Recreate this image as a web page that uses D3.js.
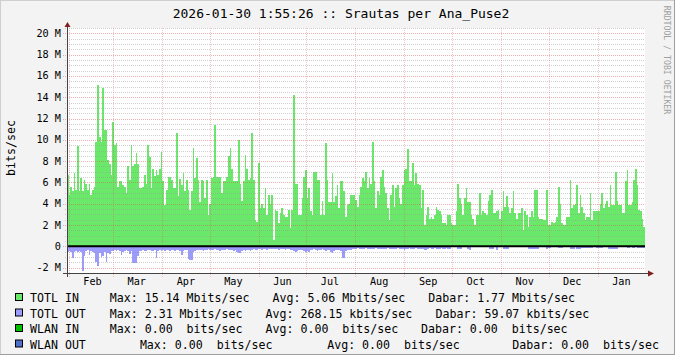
<!DOCTYPE html>
<html>
<head>
<meta charset="utf-8">
<script src="https://cdn.jsdelivr.net/npm/d3@7"></script>
<style>
  body { margin: 0; background: #f3f3f3; }
  svg { display: block; }
  text { font-family: "DejaVu Sans Mono", monospace; fill: #000; }
</style>
</head>
<body>
<svg id="chart" width="675" height="355"></svg>
<script>
// values in Mbit/s, one bar per pixel step of the rrd graph
const inFebMar = [6.7, 4.8, 5.6, 5.2, 6.9, 5.3, 9.4, 5.2, 6.4, 5.2, 6.2, 5.9, 5.3, 5.9, 4.8, 5.3, 5.6, 9.8, 15.14, 10.3,
  9.8, 14.9, 10.9, 10.9, 8.1, 7.7, 6.7, 11.7, 9.5, 9.7, 5.6, 6.1, 6.1, 5.8, 5.6, 5.0, 7.5, 6.2, 9.5, 7.5,
  7.7, 8.8, 7.7, 5.5, 5.5, 5.6, 6.7, 5.9, 9.5, 8.4, 5.5, 7.3, 6.6, 7.2, 6.7, 7.3, 8.9];
const inAprMay = [6.1, 3.9, 5.3, 6.5, 6.5, 6.2, 5.5, 5.5, 10.6, 4.7, 6.3, 5.8, 6.9, 5.2, 6.2, 5.3, 3.4, 5.2, 9.2, 6.4,
  8.3, 6.2, 4.2, 6.2, 6.1, 4.5, 6.2, 2.9, 4.0, 6.4, 6.5, 11.4, 6.5, 6.5, 6.5, 5.0, 6.1, 6.1, 6.5, 8.5,
  9.2, 7.3, 6.1, 6.1, 6.1, 10.0, 5.9, 4.3, 6.1, 8.6, 7.3, 6.2, 6.4, 10.6, 6.2, 2.5, 2.3];
const inJunJul = [7.8, 3.6, 4.0, 3.6, 5.5, 2.9, 4.8, 4.0, 4.8, 0.6, 3.4, 3.3, 2.2, 3.1, 3.6, 2.9, 2.8, 2.8, 3.4, 1.7,
  3.4, 14.2, 5.9, 5.9, 2.9, 2.9, 4.5, 6.5, 7.2, 4.5, 5.5, 3.3, 2.9, 7.0, 7.0, 6.2, 6.2, 2.9, 4.3, 2.9,
  9.7, 6.2, 4.2, 4.2, 6.9, 4.2, 4.7, 5.8, 3.6, 6.1, 6.1, 5.2, 2.8, 3.9, 4.0, 4.8, 4.8];
const inAugSep = [4.8, 4.4, 3.7, 4.8, 5.6, 6.4, 6.1, 7.0, 5.5, 6.4, 5.9, 9.8, 6.1, 3.6, 5.2, 4.8, 6.5, 7.2, 5.6, 5.0,
  3.6, 2.5, 4.8, 5.8, 3.7, 5.5, 5.8, 4.5, 4.0, 5.8, 7.2, 7.3, 9.1, 6.1, 6.1, 7.8, 5.8, 6.9, 5.9, 5.8,
  3.6, 5.3, 2.0, 2.9, 3.7, 2.6, 2.8, 2.6, 2.9, 3.7, 3.4, 3.3, 2.9, 2.2, 2.2, 2.0, 2.9, 2.9];
const inOctNov = [2.2, 2.0, 2.0, 3.3, 5.9, 4.5, 4.0, 2.9, 4.5, 5.5, 4.2, 4.2, 2.9, 2.6, 2.0, 2.9, 2.9, 5.0, 2.9, 3.3,
  3.1, 2.9, 4.3, 4.8, 5.3, 3.1, 3.1, 3.3, 3.4, 2.6, 3.3, 5.2, 3.7, 4.7, 3.7, 3.1, 3.6, 5.2, 3.1, 2.6,
  3.1, 3.1, 3.6, 1.5, 3.3, 2.9, 1.8, 2.8, 3.3, 2.8, 5.3, 5.3, 2.8, 2.6, 2.6, 2.5, 2.5, 5.3];
const inDecJan = [2.0, 2.0, 2.3, 2.2, 2.3, 2.8, 5.6, 4.0, 2.2, 2.0, 2.0, 2.8, 2.8, 6.2, 3.6, 3.9, 4.0, 5.8, 3.1, 4.8,
  3.7, 3.1, 2.5, 2.8, 2.8, 5.0, 2.5, 3.3, 3.3, 3.3, 3.3, 4.0, 5.0, 3.6, 4.0, 4.3, 3.7, 5.8, 3.9, 3.9,
  7.0, 4.3, 3.9, 3.9, 3.1, 3.1, 6.1, 7.2, 3.9, 3.9, 4.2, 6.2, 7.3, 5.8, 3.4, 3.3, 2.6, 1.8];

const outFebMar = [0.5, 0.4, 0.5, 1.1, 0.5, 0.4, 0.5, 0.4, 0.5, 2.3, 0.9, 0.4, 0.3, 0.8, 0.4, 0.5, 0.6, 1.5, 1.8, 0.6,
  1.0, 0.9, 0.5, 1.5, 0.6, 0.7, 0.4, 0.4, 0.3, 0.4, 0.3, 0.4, 0.8, 0.5, 0.4, 0.3, 0.4, 0.7, 0.4, 1.6,
  1.6, 1.6, 0.9, 0.4, 0.4, 0.3, 0.4, 0.4, 0.3, 0.3, 0.4, 0.4, 0.3, 1.1, 0.4, 0.3, 0.4];
const outAprMay = [0.3, 0.4, 0.3, 0.3, 0.4, 0.3, 0.3, 0.4, 0.3, 0.3, 0.4, 0.8, 0.4, 0.3, 0.3, 1.2, 1.3, 1.3, 0.5, 0.4,
  0.3, 0.3, 0.3, 0.3, 0.4, 0.3, 0.3, 0.2, 0.3, 0.3, 0.3, 0.2, 0.3, 0.3, 0.4, 0.3, 0.3, 0.3, 0.2, 0.3,
  0.3, 0.3, 0.4, 0.3, 0.5, 0.6, 0.6, 0.4, 0.3, 0.4, 0.3, 0.3, 0.4, 0.3, 0.2, 0.3, 0.3];
const outJunJul = [0.2, 0.2, 0.3, 0.2, 0.2, 0.3, 0.2, 0.2, 0.2, 0.2, 0.2, 0.2, 0.3, 0.2, 0.2, 0.2, 0.3, 0.2, 0.2, 0.3,
  0.3, 0.4, 0.5, 0.4, 0.3, 0.3, 0.3, 0.4, 0.5, 0.4, 0.5, 0.3, 0.3, 0.2, 0.3, 0.4, 0.3, 0.3, 0.2, 0.3,
  0.4, 0.3, 0.3, 0.5, 0.6, 0.4, 0.3, 0.3, 0.3, 0.4, 1.1, 1.1, 0.4, 0.3, 0.3, 0.3, 0.2];
const outAugSep = [0.2, 0.2, 0.15, 0.2, 0.25, 0.2, 0.2, 0.15, 0.2, 0.2, 0.25, 0.2, 0.2, 0.15, 0.2, 0.2, 0.2, 0.25, 0.2, 0.2,
  0.15, 0.2, 0.2, 0.25, 0.2, 0.2, 0.15, 0.2, 0.2, 0.25, 0.35, 0.2, 0.2, 0.15, 0.2, 0.2, 0.2, 0.15, 0.2, 0.2,
  0.2, 0.25, 0.3, 0.3, 0.2, 0.15, 0.2, 0.2, 0.15, 0.2, 0.2, 0.2, 0.15, 0.2, 0.2, 0.15, 0.2, 0.2];
const outOctNov = [0.05, 0.05, 0.05, 0.05, 0.2, 0.2, 0.2, 0.05, 0.05, 0.05, 0.25, 0.35, 0.05, 0.05, 0.05, 0.05, 0.05, 0.05, 0.05, 0.05,
  0.05, 0.05, 0.05, 0.2, 0.2, 0.2, 0.05, 0.35, 0.05, 0.05, 0.05, 0.2, 0.2, 0.2, 0.2, 0.05, 0.05, 0.05, 0.05, 0.05,
  0.05, 0.05, 0.05, 0.05, 0.05, 0.05, 0.2, 0.2, 0.2, 0.2, 0.25, 0.2, 0.2, 0.05, 0.05, 0.05, 0.05, 0.2];
const outDecJan = [0.15, 0.15, 0.05, 0.05, 0.05, 0.05, 0.15, 0.15, 0.15, 0.05, 0.05, 0.05, 0.05, 0.2, 0.2, 0.2, 0.05, 0.2, 0.2, 0.2,
  0.15, 0.15, 0.15, 0.15, 0.15, 0.15, 0.15, 0.05, 0.05, 0.15, 0.15, 0.15, 0.15, 0.05, 0.05, 0.05, 0.2, 0.2, 0.2, 0.2,
  0.2, 0.2, 0.05, 0.05, 0.05, 0.05, 0.05, 0.15, 0.15, 0.05, 0.15, 0.15, 0.05, 0.15, 0.15, 0.15, 0.15, 0.15];

const totlIn = [...inFebMar, ...inAprMay, ...inJunJul, ...inAugSep, ...inOctNov, ...inDecJan];
const totlOut = [...outFebMar, ...outAprMay, ...outJunJul, ...outAugSep, ...outOctNov, ...outDecJan];

const yTicks = [-2, 0, 2, 4, 6, 8, 10, 12, 14, 16, 18, 20];
const titleText = "2026-01-30 1:55:26 :: Srautas per Ana_Puse2";
const unitText = "bits/sec";
const watermarkText = "RRDTOOL / TOBI OETIKER";

const legendNames = ["TOTL IN", "TOTL OUT", "WLAN IN", "WLAN OUT"];
const legendMax = ["15.14 Mbits/sec", "2.31 Mbits/sec", "0.00  bits/sec", "0.00  bits/sec"];
const legendAvg = ["5.06 Mbits/sec", "268.15 kbits/sec", "0.00  bits/sec", "0.00  bits/sec"];
const legendNow = ["1.77 Mbits/sec", "59.07 kbits/sec", "0.00  bits/sec", "0.00  bits/sec"];
const legendColors = ["#6ae86a", "#9c9cff", "#00c000", "#5070c8"];

const svg = d3.select("#chart");
const W = 675, H = 355;
const plot = { left: 67, right: 645, top: 28, bottom: 273 };
const t0 = new Date(2025, 0, 30, 22, 0);
const t1 = d3.timeDay.offset(t0, 365);

const N = totlIn.length;
const x = d3.scaleLinear().domain([0, N]).range([plot.left, plot.right]);
const xt = d3.scaleTime().domain([t0, t1]).range([plot.left, plot.right]);
const y = d3.scaleLinear().domain([-2.5, 20.5]).range([plot.bottom, plot.top]);
const px = v => Math.round(v) + 0.5;

// background + frame
svg.append("rect").attr("width", W).attr("height", H).attr("fill", "#f3f3f3");
svg.append("path").attr("d", `M0,${H} V0 H${W}`).attr("fill", "none").attr("stroke", "#cfcfcf").attr("stroke-width", 2);
svg.append("path").attr("d", `M${W},0 V${H} H0`).attr("fill", "none").attr("stroke", "#9e9e9e").attr("stroke-width", 2);
svg.append("rect")
  .attr("x", plot.left).attr("y", plot.top)
  .attr("width", plot.right - plot.left).attr("height", plot.bottom - plot.top)
  .attr("fill", "#fff");

// data areas
const inArea = d3.area().curve(d3.curveStepAfter)
  .x((d, i) => x(i)).y0(y(0)).y1(d => y(d));
const outArea = d3.area().curve(d3.curveStepAfter)
  .x((d, i) => x(i)).y0(y(0)).y1(d => y(-d));

svg.append("path").datum([...totlIn, totlIn[N - 1]])
  .attr("d", inArea).attr("fill", legendColors[0]).attr("shape-rendering", "crispEdges");
svg.append("path").datum([...totlOut, totlOut[N - 1]])
  .attr("d", outArea).attr("fill", legendColors[1]).attr("shape-rendering", "crispEdges");

// grid (drawn over data like rrdtool)
const grid = svg.append("g").attr("fill", "none").attr("stroke-dasharray", "1,1");
d3.range(-2.5, 20.51, 0.5).filter(v => Math.abs(v % 2) > 0.01).forEach(v => {
  grid.append("line")
    .attr("x1", plot.left - 2).attr("x2", plot.right)
    .attr("y1", px(y(v))).attr("y2", px(y(v)))
    .attr("stroke", "rgba(150,150,150,0.45)");
});
yTicks.forEach(v => {
  grid.append("line")
    .attr("x1", plot.left - 4).attr("x2", plot.right)
    .attr("y1", px(y(v))).attr("y2", px(y(v)))
    .attr("stroke", "rgba(220,80,80,0.45)");
});
const months = d3.timeMonth.range(t0, t1);
months.forEach(m => {
  grid.append("line")
    .attr("x1", px(xt(m))).attr("x2", px(xt(m)))
    .attr("y1", plot.top).attr("y2", plot.bottom + 4)
    .attr("stroke", "rgba(220,80,80,0.32)");
});

// zero rule
svg.append("line")
  .attr("x1", plot.left).attr("x2", plot.right)
  .attr("y1", y(0)).attr("y2", y(0))
  .attr("stroke", "#000").attr("stroke-width", 2);

// axes with arrows
svg.append("line").attr("x1", plot.left - 4).attr("x2", plot.right + 4)
  .attr("y1", px(plot.bottom)).attr("y2", px(plot.bottom)).attr("stroke", "#444");
svg.append("line").attr("x1", px(plot.left)).attr("x2", px(plot.left))
  .attr("y1", plot.bottom + 4).attr("y2", plot.top - 2).attr("stroke", "#444");
svg.append("path")
  .attr("d", `M${px(plot.left) - 3},${plot.top - 1} L${px(plot.left)},${plot.top - 6} L${px(plot.left) + 3},${plot.top - 1} Z`)
  .attr("fill", "#801f1f");
svg.append("path")
  .attr("d", `M${plot.right + 3},${px(plot.bottom) - 3} L${plot.right + 9},${px(plot.bottom)} L${plot.right + 3},${px(plot.bottom) + 3} Z`)
  .attr("fill", "#801f1f");

// y labels
svg.append("g").selectAll("text").data(yTicks).join("text")
  .attr("x", 61).attr("y", d => y(d) + 3.5)
  .attr("text-anchor", "end").attr("font-size", "10.2px")
  .style("white-space", "pre")
  .text(d => d === 0 ? "0" : `${d} M`);

// month labels at mid month
svg.append("g").selectAll("text").data(months).join("text")
  .attr("x", d => xt(d3.timeDay.offset(d, 15)))
  .attr("y", 285)
  .attr("text-anchor", "middle").attr("font-size", "10.2px")
  .text(d3.timeFormat("%b"));

// title, unit, watermark
svg.append("text").attr("x", 341).attr("y", 18)
  .attr("text-anchor", "middle").attr("font-size", "13px")
  .text(titleText);
svg.append("text").attr("transform", "translate(15,148) rotate(-90)")
  .attr("text-anchor", "middle").attr("font-size", "11.6px")
  .text(unitText);
svg.append("text").attr("transform", "translate(664,60) rotate(90)")
  .attr("text-anchor", "middle").attr("font-size", "8.2px")
  .style("fill", "#a0a0a0")
  .text(watermarkText);

// legend
const rowY = [302, 317.5, 333, 348.5];
const maxX = [109.8, 109.8, 109.8, 139.9];
const avgX = [272.5, 265.6, 265.6, 327.2];
const nowX = [428.3, 435.6, 421, 512.3];
const legend = svg.append("g").attr("font-size", "11.6px");
legendNames.forEach((name, i) => {
  legend.append("rect")
    .attr("x", 15.5).attr("y", rowY[i] - 8.5).attr("width", 7).attr("height", 7)
    .attr("fill", legendColors[i]).attr("stroke", "#000");
  legend.append("text").attr("x", 30).attr("y", rowY[i]).text(name);
  legend.append("text").attr("x", maxX[i]).attr("y", rowY[i])
    .style("white-space", "pre").text(`Max: ${legendMax[i]}`);
  legend.append("text").attr("x", avgX[i]).attr("y", rowY[i])
    .style("white-space", "pre").text(`Avg: ${legendAvg[i]}`);
  legend.append("text").attr("x", nowX[i]).attr("y", rowY[i])
    .style("white-space", "pre").text(`Dabar: ${legendNow[i]}`);
});
</script>
</body>
</html>
